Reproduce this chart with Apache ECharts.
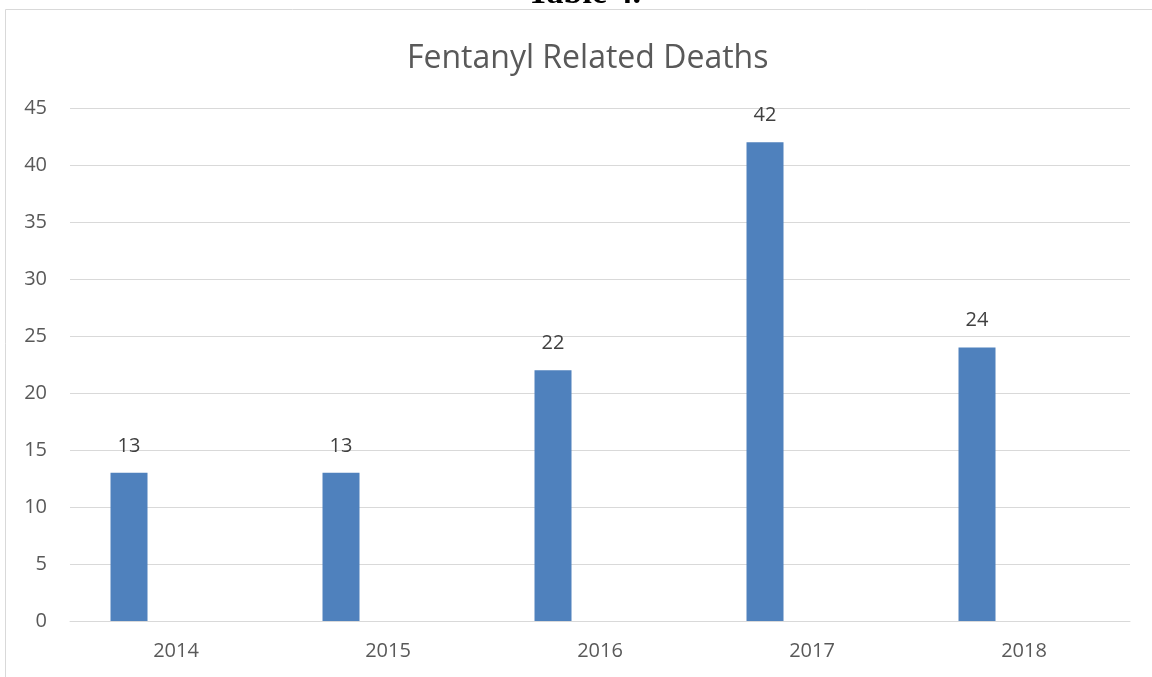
<!DOCTYPE html>
<html>
<head>
<meta charset="utf-8">
<script src="https://cdn.jsdelivr.net/npm/echarts@6/dist/echarts.min.js"></script>
<style>
html,body{margin:0;padding:0;background:#fff;}
#c{width:1152px;height:677px;}
</style>
</head>
<body>
<div id="c"></div>
<script>
const categories = ['2014', '2015', '2016', '2017', '2018'];
const deaths = [13, 13, 22, 42, 24];
const emptySeries = [null, null, null, null, null];
const yTicks = { min: 0, max: 45, interval: 5 };

const chart = echarts.init(document.getElementById('c'));
chart.setOption({
  animation: false,
  backgroundColor: '#fff',
  title: {
    text: 'Fentanyl Related Deaths',
    left: 402,
    top: 38,
    textStyle: { fontFamily: 'Open Sans', fontSize: 32, fontWeight: 'normal', color: '#595959' }
  },
  graphic: [
    { type: 'rect', shape: { x: 5.5, y: 9.5, width: 1200, height: 700 }, style: { fill: 'none', stroke: '#d9d9d9', lineWidth: 1 }, z: -1 },
    { type: 'text', x: 584, y: 11, z: 10, style: { text: 'Table 4.', font: 'bold 34px "Liberation Serif"', fill: '#000', align: 'center', verticalAlign: 'bottom' } }
  ],
  grid: { left: 70, right: 22, top: 108, bottom: 56 },
  xAxis: {
    type: 'category',
    data: categories,
    axisLine: { lineStyle: { color: '#d9d9d9', width: 1 } },
    axisTick: { show: false },
    axisLabel: { color: '#595959', fontSize: 20, fontFamily: 'Open Sans', margin: 20 }
  },
  yAxis: {
    type: 'value',
    min: yTicks.min, max: yTicks.max, interval: yTicks.interval,
    axisLine: { show: false },
    axisTick: { show: false },
    splitLine: { lineStyle: { color: '#d9d9d9', width: 1 } },
    axisLabel: { color: '#595959', fontSize: 20, fontFamily: 'Open Sans', margin: 23 }
  },
  series: [
    {
      type: 'bar', name: 'Deaths', data: deaths,
      barWidth: 37, barGap: '154%',
      itemStyle: { color: '#4F81BD' },
      label: { show: true, position: 'top', distance: 17, color: '#404040', fontSize: 20, fontFamily: 'Open Sans' }
    },
    { type: 'bar', name: '', data: emptySeries, barWidth: 37 }
  ]
});
</script>
</body>
</html>
